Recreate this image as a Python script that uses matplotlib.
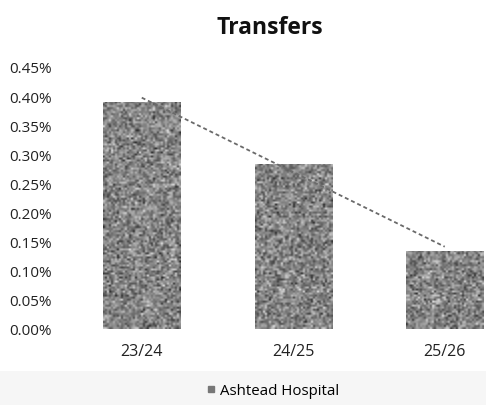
import numpy as np
import matplotlib.pyplot as plt
from matplotlib.patches import Rectangle
from matplotlib.lines import Line2D
from matplotlib.ticker import FuncFormatter

plt.rcParams['font.family'] = ['Open Sans', 'DejaVu Sans']

years = ['23/24', '24/25', '25/26']
transfers = [0.39, 0.284, 0.134]   # percent
series_name = 'Ashtead Hospital'
yticks = [0.0, 0.05, 0.10, 0.15, 0.20, 0.25, 0.30, 0.35, 0.40, 0.45]

W, H = 486, 406
fig = plt.figure(figsize=(W / 100, H / 100), dpi=100)
fig.patch.set_facecolor('white')

# faint grey strip along the bottom edge
fig.patches.append(Rectangle((0, 0), 1, 34 / H, transform=fig.transFigure,
                             facecolor='#f6f6f6', edgecolor='none', zorder=0))

ax = fig.add_axes([66 / W, (H - 330) / H, (W - 66) / W, 262 / H])
ax.set_facecolor('none')

x = np.arange(len(years))
bars = ax.bar(x, transfers, width=0.51, color='#838383', edgecolor='none', zorder=2)

# grainy texture clipped to each bar, cells about 2 px square
px_per_pct = 262 / 0.45
rng = np.random.default_rng(3)
for b in bars:
    rows = max(int(b.get_height() * px_per_pct / 2), 1)
    tex = rng.normal(0.52, 0.14, size=(rows, 39))
    tex = np.clip(tex, 0.15, 0.9)
    im = ax.imshow(tex, cmap='gray', vmin=0, vmax=1, aspect='auto',
                   extent=(b.get_x(), b.get_x() + b.get_width(), 0, b.get_height()),
                   interpolation='bilinear', zorder=3)
    im.set_clip_path(b)

# linear trendline
k, c = np.polyfit(x, transfers, 1)
tx = np.array([x[0], x[-1]])
ax.plot(tx, k * tx + c, color='#6a6a6a', linestyle=(0, (2.2, 1.6)), linewidth=1.3, zorder=4)

ax.set_xlim(-0.5, (W - 66) / 151.5 - 0.5)
ax.set_ylim(0, 0.45)
ax.set_yticks(yticks)
ax.yaxis.set_major_formatter(FuncFormatter(lambda v, p: f'{v:.2f}%'))
ax.set_xticks(x)
ax.set_xticklabels(years)
ax.tick_params(axis='both', length=0, colors='#222222')
ax.tick_params(axis='y', pad=10, labelsize=11)
ax.tick_params(axis='x', pad=10, labelsize=11.5)
for s in ax.spines.values():
    s.set_visible(False)

fig.text(270 / W, 1 - 28 / H, 'Transfers', ha='center', va='center',
         fontsize=16.5, fontweight='bold', color='#111111')

handle = Line2D([], [], marker='s', linestyle='none', markersize=5,
                markerfacecolor='#777777', markeredgecolor='#777777')
fig.legend([handle], [series_name], loc='center', bbox_to_anchor=(272 / W, 1 - 392 / H),
           frameon=False, fontsize=10.8, handletextpad=0.2, handlelength=0.8)

fig.savefig('out.png', dpi=100)
